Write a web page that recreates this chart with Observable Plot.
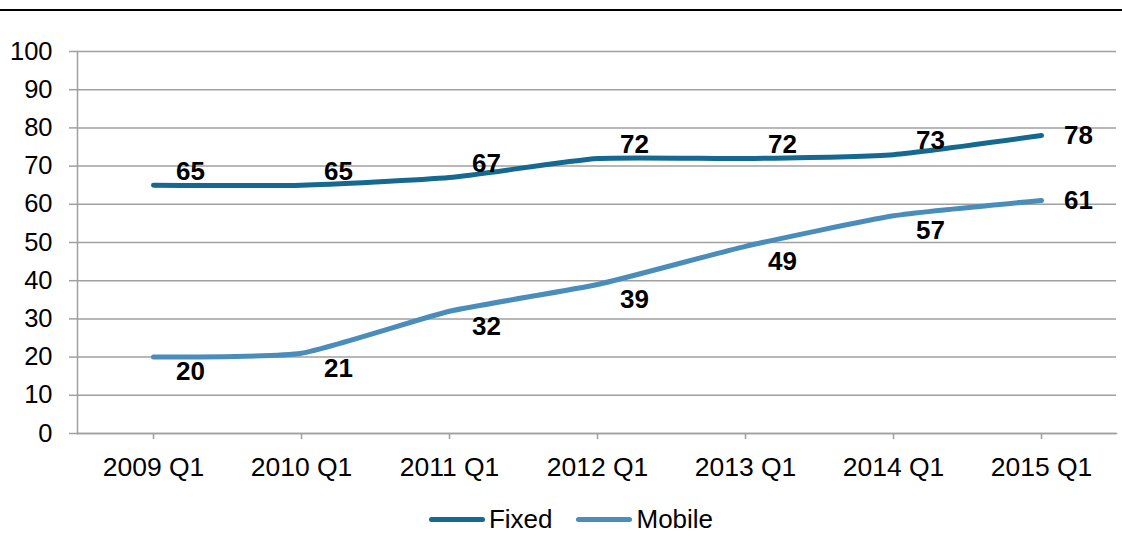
<!DOCTYPE html>
<html>
<head>
<meta charset="utf-8">
<script src="https://cdn.jsdelivr.net/npm/d3@7"></script>
<script src="https://cdn.jsdelivr.net/npm/@observablehq/plot@0.6"></script>
<style>
  html, body { margin: 0; padding: 0; background: #fff; }
  body { width: 1122px; height: 534px; position: relative; overflow: hidden; font-family: "Liberation Sans", Arial, sans-serif; }
  #topline { position: absolute; left: 0; top: 9px; width: 1122px; height: 2px; background: #000; }
  #chart { position: absolute; left: 0; top: 0; }
  #legend { position: absolute; top: 503px; left: 0; width: 1122px; height: 32px; padding-left: 20px; box-sizing: border-box; display: flex; justify-content: center; align-items: center; font-size: 26px; color: #000; }
  .item { display: flex; align-items: center; margin: 0 12px; }
  .sw { width: 56px; height: 5px; border-radius: 3px; margin-right: 4px; }
</style>
</head>
<body>
<div id="chart"></div>
<div id="topline"></div>
<div id="legend"></div>
<script>
const quarters = ["2009 Q1", "2010 Q1", "2011 Q1", "2012 Q1", "2013 Q1", "2014 Q1", "2015 Q1"];
const fixedValues = [65, 65, 67, 72, 72, 73, 78];
const mobileValues = [20, 21, 32, 39, 49, 57, 61];
const seriesNames = ["Fixed", "Mobile"];
const seriesColors = ["#15688F", "#4A8DBB"];
const yTicks = [0, 10, 20, 30, 40, 50, 60, 70, 80, 90, 100];

const rows = [];
quarters.forEach((q, i) => {
  rows.push({quarter: q, series: seriesNames[0], value: fixedValues[i], last: i === quarters.length - 1});
  rows.push({quarter: q, series: seriesNames[1], value: mobileValues[i], last: i === quarters.length - 1});
});
const fixedMid = rows.filter(d => d.series === "Fixed" && !d.last);
const mobileMid = rows.filter(d => d.series === "Mobile" && !d.last);
const lastRows = rows.filter(d => d.last);

const gridColor = "#a0a0a0";
const font = "Liberation Sans, Arial, sans-serif";
const labelOpts = {x: "quarter", y: "value", text: d => String(d.value), fontWeight: "bold", fontSize: 26, fill: "#000", dx: 37};

const plot = Plot.plot({
  width: 1122,
  height: 480,
  marginLeft: 77,
  marginRight: 6,
  marginTop: 51,
  marginBottom: 47,
  style: {fontFamily: font, fontSize: "26px", background: "transparent", overflow: "visible"},
  x: {type: "point", domain: quarters, padding: 0.5, label: null},
  y: {domain: [0, 100], ticks: yTicks, label: null},
  color: {domain: seriesNames, range: seriesColors},
  marks: [
    Plot.gridY(yTicks, {stroke: gridColor, strokeOpacity: 1, strokeWidth: 1.5}),
    Plot.axisY({ticks: yTicks, tickSize: 8, tickPadding: 17, stroke: gridColor, strokeWidth: 1.5, strokeOpacity: 1, fill: "#000", fontSize: 25.5, label: null}),
    Plot.axisX({tickSize: 6, tickPadding: 18, stroke: gridColor, strokeWidth: 1.5, strokeOpacity: 1, fill: "#000", fontSize: 26.5, label: null}),
    Plot.frame({anchor: "left", stroke: gridColor, strokeWidth: 1.5}),
    Plot.frame({anchor: "bottom", stroke: gridColor, strokeWidth: 1.5}),
    Plot.line(rows, {x: "quarter", y: "value", z: "series", stroke: "series", strokeWidth: 5, curve: "cardinal", tension: 0.5, strokeLinecap: "round", strokeLinejoin: "round"}),
    Plot.text(fixedMid, {...labelOpts, dy: -14}),
    Plot.text(mobileMid, {...labelOpts, dy: 15}),
    Plot.text(lastRows, {...labelOpts, dy: 0})
  ]
});
document.getElementById("chart").appendChild(plot);

const legend = document.getElementById("legend");
seriesNames.forEach((name, i) => {
  const item = document.createElement("div");
  item.className = "item";
  const sw = document.createElement("div");
  sw.className = "sw";
  sw.style.background = seriesColors[i];
  const label = document.createElement("span");
  label.textContent = name;
  item.appendChild(sw);
  item.appendChild(label);
  legend.appendChild(item);
});
</script>
</body>
</html>
